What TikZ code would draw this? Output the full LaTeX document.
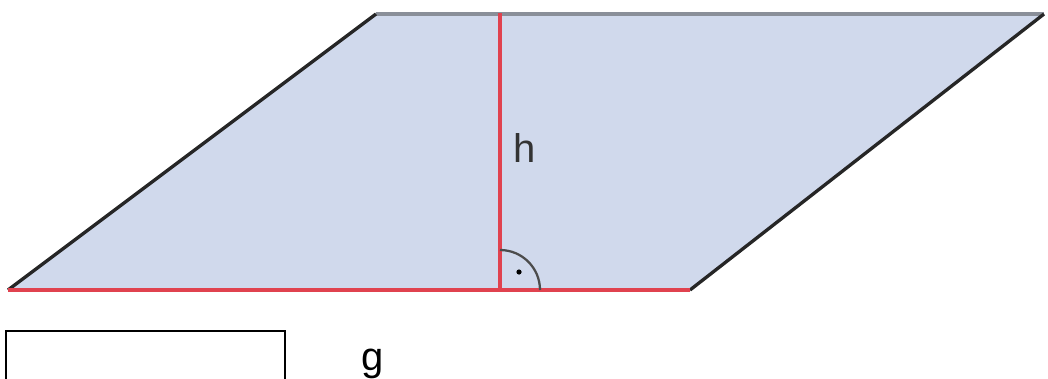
\documentclass[tikz,border=0pt]{standalone}
\usepackage{fontspec}
\setmainfont{Liberation Sans}
\definecolor{fillblue}{HTML}{D0D9EC}
\definecolor{redline}{HTML}{E0424F}
\definecolor{topgray}{HTML}{8A8F99}
\begin{document}
\begin{tikzpicture}[x=0.75pt,y=-0.75pt,
  edge/.style={line width=2.5pt,draw=black!85},
  redl/.style={line width=3pt,draw=redline},
  lbl/.style={font=\fontsize{30}{30}\selectfont,inner sep=0pt}]
\useasboundingbox (0,0) rectangle (1048,378);
\coordinate (A) at (8,290);
\coordinate (B) at (690,290);
\coordinate (C) at (1044,14);
\coordinate (D) at (376,14);
\coordinate (F) at (500,290);
\coordinate (T) at (500,13);
\fill[fillblue] (A) -- (B) -- (C) -- (D) -- cycle;
\draw[line width=3pt,draw=topgray] (D) -- (C);
\draw[edge] (A) -- (D);
\draw[edge] (B) -- (C);
\draw[redl] (A) -- (B);
\draw[redl] (F) -- (T);
\draw[line width=1.7pt,draw=black!70] ([xshift=40*0.75pt]F) arc[start angle=0,end angle=90,radius=40*0.75pt];
\fill[black] (519,272) circle[radius=2.6*0.75pt];
\node[lbl,text=black!80,anchor=base west] (h) at (513,162) {h};
\draw[line width=1.8pt] (6,380) -- (6,331) -- (285,331) -- (285,380);
\node[lbl,anchor=base west] (g) at (361,370) {g};
\end{tikzpicture}
\end{document}
